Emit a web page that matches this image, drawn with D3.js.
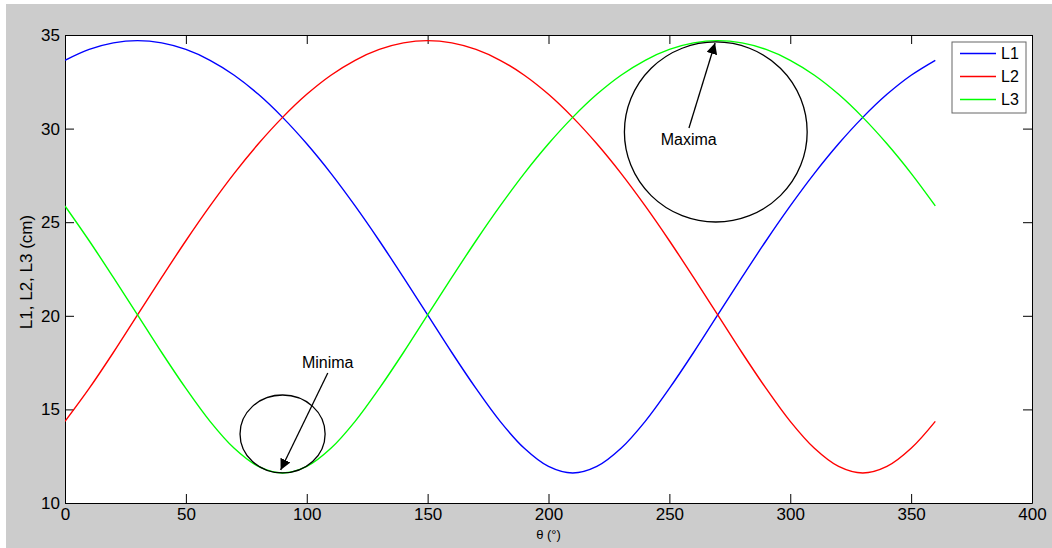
<!DOCTYPE html>
<html>
<head>
<meta charset="utf-8">
<script src="https://cdn.jsdelivr.net/npm/d3@7"></script>
<style>
  html, body { margin: 0; padding: 0; background: #fff; }
  svg { display: block; }
  text { font-family: "Liberation Sans", Arial, sans-serif; fill: #000; }
</style>
</head>
<body>
<div id="chart"></div>
<script>
// angles (deg) and cable lengths, every 10 degrees
const theta = d3.range(0, 361, 10);
const L1 = [33.65, 34.23, 34.58, 34.70, 34.58, 34.23, 33.65, 32.85, 31.83, 30.60,
            29.19, 27.61, 25.87, 24.01, 22.05, 20.05, 18.04, 16.12, 14.36, 12.92,
            11.95, 11.60, 11.95, 12.92, 14.36, 16.12, 18.04, 20.05, 22.05, 24.01,
            25.87, 27.61, 29.19, 30.60, 31.83, 32.85, 33.65];
const L2 = [14.36, 16.12, 18.04, 20.05, 22.05, 24.01, 25.87, 27.61, 29.19, 30.60,
            31.83, 32.85, 33.65, 34.23, 34.58, 34.70, 34.58, 34.23, 33.65, 32.85,
            31.83, 30.60, 29.19, 27.61, 25.87, 24.01, 22.05, 20.05, 18.04, 16.12,
            14.36, 12.92, 11.95, 11.60, 11.95, 12.92, 14.36];
const L3 = [25.87, 24.01, 22.05, 20.05, 18.04, 16.12, 14.36, 12.92, 11.95, 11.60,
            11.95, 12.92, 14.36, 16.12, 18.04, 20.05, 22.05, 24.01, 25.87, 27.61,
            29.19, 30.60, 31.83, 32.85, 33.65, 34.23, 34.58, 34.70, 34.58, 34.23,
            33.65, 32.85, 31.83, 30.60, 29.19, 27.61, 25.87];
const seriesNames = ['L1', 'L2', 'L3'];
const seriesColors = ['#0000ff', '#ff0000', '#00ff00'];
const xTicks = [0, 50, 100, 150, 200, 250, 300, 350, 400];
const yTicks = [10, 15, 20, 25, 30, 35];

// annotations in data units: ellipse centre/radii, arrow from -> to, label
const ellipses = [
    { cx: 90, cy: 13.69, rx: 17.6, ry: 2.08 },
    { cx: 269.2, cy: 29.82, rx: 37.8, ry: 4.81 }
];
const arrows = [
    { x0: 108.7, y0: 16.94, x1: 89.2, y1: 11.76, label: 'Minima', lx: 98, ly: 17.21 },
    { x0: 258.1, y0: 30.03, x1: 268.9, y1: 34.57, label: 'Maxima', lx: 246.4, ly: 29.12 }
];

const width = 1052, height = 548;
const plot = { left: 65, right: 1032, top: 35, bottom: 503 };

const svg = d3.select('#chart').append('svg')
    .attr('width', width)
    .attr('height', height);

// gray figure background (white sliver at top/left as in the screenshot)
svg.append('rect')
    .attr('x', 6).attr('y', 4)
    .attr('width', width - 6).attr('height', height - 4)
    .attr('fill', '#cccccc');

const x = d3.scaleLinear().domain([0, 400]).range([plot.left, plot.right]);
const y = d3.scaleLinear().domain([10, 35]).range([plot.bottom, plot.top]);

svg.append('rect')
    .attr('x', plot.left).attr('y', plot.top)
    .attr('width', plot.right - plot.left)
    .attr('height', plot.bottom - plot.top)
    .attr('fill', '#fff');

const tickLen = 9;

// axes with inward ticks, and mirrored ticks on top/right
const xAxis = svg.append('g')
    .attr('transform', `translate(0,${plot.bottom})`)
    .call(d3.axisBottom(x).tickValues(xTicks).tickSizeInner(-tickLen).tickSizeOuter(0).tickPadding(5));
const xTop = svg.append('g')
    .attr('transform', `translate(0,${plot.top})`)
    .call(d3.axisTop(x).tickValues(xTicks).tickSizeInner(-tickLen).tickSizeOuter(0).tickFormat(''));
const yAxis = svg.append('g')
    .attr('transform', `translate(${plot.left},0)`)
    .call(d3.axisLeft(y).tickValues(yTicks).tickSizeInner(-tickLen).tickSizeOuter(0).tickPadding(6));
const yRight = svg.append('g')
    .attr('transform', `translate(${plot.right},0)`)
    .call(d3.axisRight(y).tickValues(yTicks).tickSizeInner(-tickLen).tickSizeOuter(0).tickFormat(''));

[xAxis, xTop, yAxis, yRight].forEach(g => {
    g.select('.domain').attr('stroke', '#000');
    g.selectAll('.tick line').attr('stroke', '#000');
    g.selectAll('.tick text')
        .attr('font-family', '"Liberation Sans", Arial, sans-serif')
        .attr('font-size', 17)
        .attr('fill', '#000');
});
yAxis.selectAll('.tick text').attr('x', -5);

// series
const line = d3.line()
    .x((d, i) => x(theta[i]))
    .y(d => y(d))
    .curve(d3.curveCatmullRom);

svg.append('defs').append('clipPath').attr('id', 'clip')
    .append('rect')
    .attr('x', plot.left).attr('y', plot.top)
    .attr('width', plot.right - plot.left).attr('height', plot.bottom - plot.top);

const lines = svg.append('g').attr('clip-path', 'url(#clip)');
[L1, L2, L3].forEach((vals, k) => {
    lines.append('path')
        .datum(vals)
        .attr('d', line)
        .attr('fill', 'none')
        .attr('stroke', seriesColors[k])
        .attr('stroke-width', 1.4);
});

// annotations
svg.append('defs').append('marker')
    .attr('id', 'arrowhead')
    .attr('viewBox', '0 0 10 10')
    .attr('refX', 10).attr('refY', 5)
    .attr('markerWidth', 11).attr('markerHeight', 11)
    .attr('markerUnits', 'userSpaceOnUse')
    .attr('orient', 'auto')
    .append('path')
    .attr('d', 'M0,0 L10,5 L0,10 Z')
    .attr('fill', '#000');

const ann = svg.append('g');
ellipses.forEach(e => {
    ann.append('ellipse')
        .attr('cx', x(e.cx)).attr('cy', y(e.cy))
        .attr('rx', x(e.cx + e.rx) - x(e.cx))
        .attr('ry', y(e.cy) - y(e.cy + e.ry))
        .attr('fill', 'none')
        .attr('stroke', '#000')
        .attr('stroke-width', 1.3);
});
arrows.forEach(a => {
    ann.append('line')
        .attr('x1', x(a.x0)).attr('y1', y(a.y0))
        .attr('x2', x(a.x1)).attr('y2', y(a.y1))
        .attr('stroke', '#000')
        .attr('stroke-width', 1.3)
        .attr('marker-end', 'url(#arrowhead)');
    ann.append('text')
        .attr('x', x(a.lx)).attr('y', y(a.ly))
        .attr('font-size', 16)
        .text(a.label);
});

// legend
const legend = svg.append('g').attr('transform', 'translate(952,42)');
legend.append('rect')
    .attr('width', 74).attr('height', 71)
    .attr('fill', '#fff')
    .attr('stroke', '#666')
    .attr('stroke-width', 1);
seriesNames.forEach((name, i) => {
    const ly = 11.5 + i * 23;
    legend.append('line')
        .attr('x1', 8).attr('x2', 44)
        .attr('y1', ly).attr('y2', ly)
        .attr('stroke', seriesColors[i])
        .attr('stroke-width', 1.4);
    legend.append('text')
        .attr('x', 49).attr('y', ly)
        .attr('dy', '0.36em')
        .attr('font-size', 16)
        .text(name);
});

// axis titles
svg.append('text')
    .attr('x', x(200)).attr('y', 539)
    .attr('text-anchor', 'middle')
    .attr('font-size', 13)
    .text('θ (°)');
svg.append('text')
    .attr('transform', `translate(32,272) rotate(-90)`)
    .attr('text-anchor', 'middle')
    .attr('font-size', 17)
    .text('L1, L2, L3 (cm)');
</script>
</body>
</html>
